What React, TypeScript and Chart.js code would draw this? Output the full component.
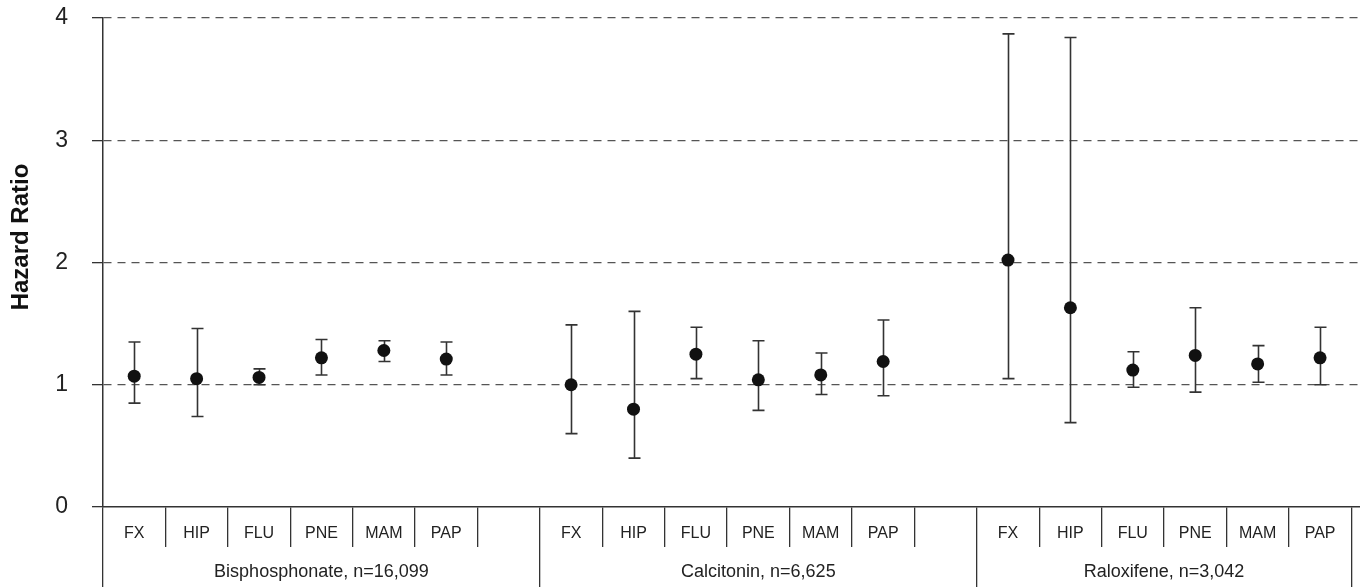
import React, { useEffect, useRef } from "react";
import { Chart, registerables } from "chart.js";

Chart.register(...registerables);

// ---- data ----
const groupLabels = ["Bisphosphonate, n=16,099", "Calcitonin, n=6,625", "Raloxifene, n=3,042"];
const outcomeLabels = ["FX", "HIP", "FLU", "PNE", "MAM", "PAP"];
const groupSlots = [7, 7, 6];
const yTickLabels = ["0", "1", "2", "3", "4"];
const yAxisTitle = "Hazard Ratio";

const bisphosphonateHR = [1.07, 1.05, 1.06, 1.22, 1.28, 1.21];
const bisphosphonateLo = [0.85, 0.74, 1.0, 1.08, 1.19, 1.08];
const bisphosphonateHi = [1.35, 1.46, 1.13, 1.37, 1.36, 1.35];

const calcitoninHR = [1.0, 0.8, 1.25, 1.04, 1.08, 1.19];
const calcitoninLo = [0.6, 0.4, 1.05, 0.79, 0.92, 0.91];
const calcitoninHi = [1.49, 1.6, 1.47, 1.36, 1.26, 1.53];

const raloxifeneHR = [2.02, 1.63, 1.12, 1.24, 1.17, 1.22];
const raloxifeneLo = [1.05, 0.69, 0.98, 0.94, 1.02, 1.0];
const raloxifeneHi = [3.87, 3.84, 1.27, 1.63, 1.32, 1.47];

const seriesHR = [bisphosphonateHR, calcitoninHR, raloxifeneHR];
const seriesLo = [bisphosphonateLo, calcitoninLo, raloxifeneLo];
const seriesHi = [bisphosphonateHi, calcitoninHi, raloxifeneHi];

const FONT = "'Liberation Sans', Arial, Helvetica, sans-serif";

export default function App() {
  const ref = useRef<HTMLCanvasElement | null>(null);

  useEffect(() => {
    const canvas = ref.current;
    if (!canvas) return;

    const starts: number[] = [];
    let acc = 0;
    groupSlots.forEach((n) => {
      starts.push(acc);
      acc += n;
    });
    const totalSlots = acc;

    const cellTicks: number[] = [];
    const cellLabels: string[] = [];
    groupSlots.forEach((n, g) => {
      for (let i = 0; i < n; i++) {
        cellTicks.push(starts[g] + i + 0.5);
        cellLabels.push(outcomeLabels[i] ?? "");
      }
    });

    const boundaries = [...starts, totalSlots];
    const groupTicks: number[] = [];
    const groupTickLabels: string[] = [];
    groupSlots.forEach((n, g) => {
      groupTicks.push(starts[g]);
      groupTickLabels.push("");
      groupTicks.push(starts[g] + n / 2);
      groupTickLabels.push(groupLabels[g]);
    });
    groupTicks.push(totalSlots);
    groupTickLabels.push("");

    const points: any[] = [];
    seriesHR.forEach((arr, g) => {
      arr.forEach((v, i) => {
        points.push({ x: starts[g] + i + 0.5, y: v, lo: seriesLo[g][i], hi: seriesHi[g][i] });
      });
    });

    const errorBars = {
      id: "errorBars",
      beforeDatasetsDraw(chart: any) {
        const { ctx } = chart;
        const xs = chart.scales.x;
        const ys = chart.scales.y;
        ctx.save();
        ctx.strokeStyle = "#333";
        ctx.lineWidth = 1.6;
        points.forEach((p) => {
          const px = Math.round(xs.getPixelForValue(p.x)) + 0.5;
          const yl = ys.getPixelForValue(p.lo);
          const yh = ys.getPixelForValue(p.hi);
          ctx.beginPath();
          ctx.moveTo(px, yl);
          ctx.lineTo(px, yh);
          ctx.moveTo(px - 6, yl);
          ctx.lineTo(px + 6, yl);
          ctx.moveTo(px - 6, yh);
          ctx.lineTo(px + 6, yh);
          ctx.stroke();
        });
        ctx.restore();
      },
      afterDraw(chart: any) {
        const { ctx } = chart;
        ctx.save();
        ctx.translate(21, 237);
        ctx.rotate(-Math.PI / 2);
        ctx.font = `bold 24px ${FONT}`;
        ctx.fillStyle = "#111";
        ctx.textAlign = "center";
        ctx.textBaseline = "middle";
        ctx.fillText(yAxisTitle, 0, 0);
        ctx.restore();
      },
    };

    const fixH = (s: any) => {
      s.height = 40;
      s.paddingLeft = 0;
      s.paddingRight = 0;
      s.paddingTop = 0;
      s.paddingBottom = 0;
    };

    const chart = new Chart(canvas, {
      type: "scatter",
      data: {
        datasets: [
          {
            data: points,
            pointRadius: 6.5,
            pointHoverRadius: 6.5,
            backgroundColor: "#111",
            borderWidth: 0,
          },
        ],
      },
      options: {
        responsive: false,
        animation: false,
        events: [],
        layout: { autoPadding: false, padding: { top: 18, left: 0, right: 0, bottom: 0 } },
        plugins: { legend: { display: false }, tooltip: { enabled: false } },
        scales: {
          x: {
            type: "linear",
            position: "bottom",
            weight: 0,
            min: 0,
            max: 20.14,
            afterBuildTicks: (s: any) => {
              s.ticks = cellTicks.map((v) => ({ value: v }));
            },
            afterFit: fixH,
            grid: {
              offset: true,
              drawOnChartArea: false,
              drawTicks: true,
              tickLength: 40,
              tickColor: "#333",
              lineWidth: 1.3,
            },
            border: { display: true, color: "#333", width: 1.5 },
            ticks: {
              autoSkip: false,
              maxRotation: 0,
              minRotation: 0,
              padding: -23,
              color: "#222",
              font: { family: FONT, size: 16 },
              callback: (_v: any, i: number) => cellLabels[i],
            },
          },
          xg: {
            type: "linear",
            position: "bottom",
            weight: 1,
            min: 0,
            max: 20.14,
            afterBuildTicks: (s: any) => {
              s.ticks = groupTicks.map((v) => ({ value: v }));
            },
            afterFit: fixH,
            grid: {
              offset: false,
              drawOnChartArea: false,
              drawTicks: true,
              tickLength: 40,
              lineWidth: 1.3,
              tickColor: (c: any) =>
                c.tick && boundaries.includes(c.tick.value) ? "#333" : "rgba(0,0,0,0)",
            },
            border: { display: false },
            ticks: {
              autoSkip: false,
              maxRotation: 0,
              minRotation: 0,
              padding: -26,
              color: "#222",
              font: { family: FONT, size: 18 },
              callback: (_v: any, i: number) => groupTickLabels[i],
            },
          },
          y: {
            type: "linear",
            position: "left",
            min: 0,
            max: 4,
            afterFit: (s: any) => {
              s.width = 103;
              s.paddingTop = 0;
              s.paddingBottom = 0;
              s.paddingLeft = 0;
              s.paddingRight = 0;
            },
            grid: {
              drawTicks: true,
              tickLength: 11,
              lineWidth: 1.3,
              color: (c: any) => (c.tick && c.tick.value === 0 ? "rgba(0,0,0,0)" : "#555"),
              tickColor: "#333",
            },
            border: { display: true, color: "#333", width: 1.5, dash: [8, 6] },
            ticks: {
              stepSize: 1,
              padding: 24,
              color: "#222",
              font: { family: FONT, size: 23 },
              callback: (_v: any, i: number) => yTickLabels[i],
            },
          },
        },
      },
      plugins: [errorBars],
    } as any);

    return () => chart.destroy();
  }, []);

  return (
    <div style={{ position: "fixed", left: 0, top: 0, width: 1360, height: 587, background: "#fff" }}>
      <canvas ref={ref} width={1360} height={587} style={{ display: "block" }} />
    </div>
  );
}
